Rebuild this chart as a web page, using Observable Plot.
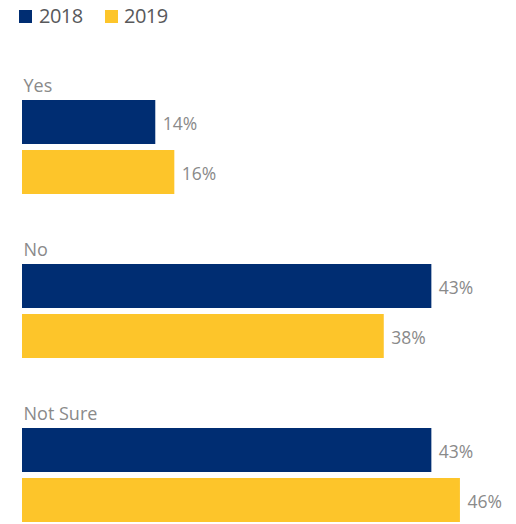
<!DOCTYPE html>
<html>
<head>
<meta charset="utf-8">
<script src="https://cdn.jsdelivr.net/npm/d3@7"></script>
<script src="https://cdn.jsdelivr.net/npm/@observablehq/plot@0.6"></script>
<style>
  html, body { margin: 0; padding: 0; background: #ffffff; }
  #wrap { position: relative; width: 516px; height: 524px; font-family: "Open Sans", sans-serif; }
  #legend { position: relative; height: 40px; }
  .sw { position: absolute; width: 13px; height: 13px; top: 10px; }
  .lt { position: absolute; top: 2px; font-size: 20px; letter-spacing: -0.5px; color: #58595b; line-height: 28px; }
</style>
</head>
<body>
<div id="wrap">
  <div id="legend"></div>
  <div id="chart"></div>
</div>
<script>
const categories = ["Yes", "No", "Not Sure"];
const years = ["2018", "2019"];
const values2018 = [14, 43, 43];
const values2019 = [16, 38, 46];
const colors = ["#002d72", "#fdc52a"];

const rows = [];
categories.forEach((c, i) => {
  rows.push({category: c, year: years[0], value: values2018[i]});
  rows.push({category: c, year: years[1], value: values2019[i]});
});

// legend
const legend = document.getElementById("legend");
const legendX = [[19, 39], [105, 124]];
years.forEach((y, i) => {
  const sw = document.createElement("div");
  sw.className = "sw";
  sw.style.left = legendX[i][0] + "px";
  sw.style.background = colors[i];
  legend.appendChild(sw);
  const t = document.createElement("div");
  t.className = "lt";
  t.style.left = legendX[i][1] + "px";
  t.textContent = y;
  legend.appendChild(t);
});

const chart = Plot.plot({
  width: 516,
  height: 484,
  marginTop: 29,
  marginBottom: 2,
  marginLeft: 22,
  marginRight: 18,
  style: {fontFamily: "Open Sans, sans-serif", background: "#ffffff"},
  x: {domain: [0, 50], axis: null},
  y: {domain: years, axis: null, insetTop: 30, paddingInner: 0.12, paddingOuter: 0},
  fy: {domain: categories, axis: null, paddingInner: 0.246, paddingOuter: 0},
  color: {domain: years, range: colors},
  marks: [
    Plot.barX(rows, {x: "value", y: "year", fy: "category", fill: "year"}),
    Plot.text(rows, {
      x: "value", y: "year", fy: "category",
      text: d => d.value + "%",
      textAnchor: "start", dx: 7, dy: 2,
      fill: "#8a8a8a", fontSize: 17.5, letterSpacing: "-0.4px"
    }),
    Plot.text(categories, {
      fy: d => d, text: d => d,
      frameAnchor: "top-left", textAnchor: "start", lineAnchor: "bottom",
      dx: 1, dy: 21.5, fill: "#8a8a8a", fontSize: 18
    })
  ]
});
document.getElementById("chart").appendChild(chart);
</script>
</body>
</html>
